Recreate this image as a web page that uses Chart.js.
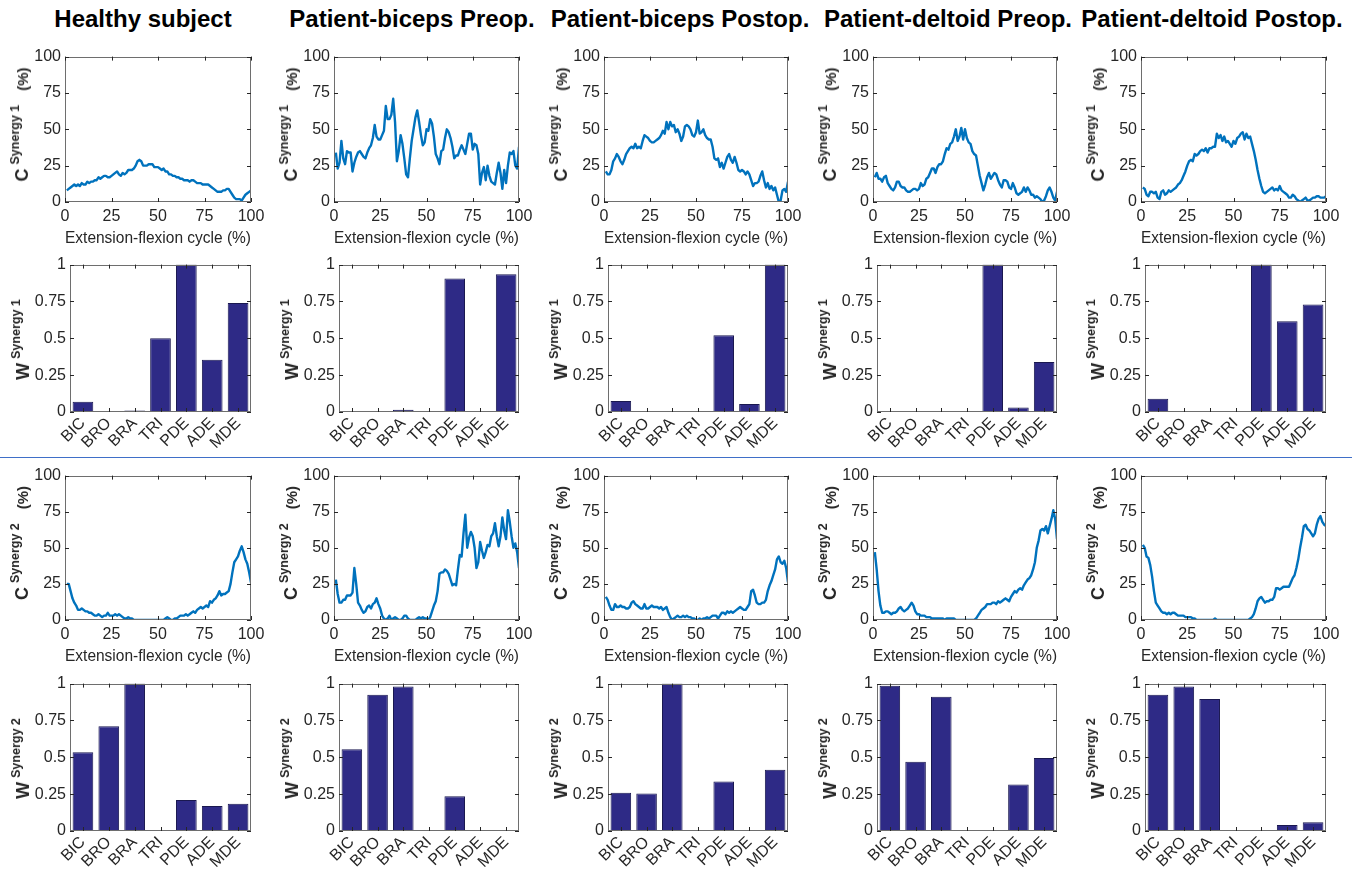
<!DOCTYPE html>
<html><head><meta charset="utf-8">
<script src="https://cdn.jsdelivr.net/npm/chart.js@4.4.1/dist/chart.umd.min.js"></script>
<style>
body{margin:0;background:#fff;width:1352px;height:872px;overflow:hidden;position:relative;font-family:"Liberation Sans",Arial,Helvetica,sans-serif;}
.t{position:absolute;top:5px;line-height:28px;font-weight:bold;font-size:24px;white-space:nowrap;transform:translateX(-50%);color:#000}
.yl{position:absolute;left:0;top:0;transform-origin:0 0;white-space:nowrap;font-weight:bold;color:#262626;font-size:18px;line-height:18px}
.yl .sup{font-size:12.5px;position:relative;top:-9px;margin-left:4px}
.yl .pct{font-size:15px;margin-left:14px}
canvas{position:absolute}
#sep{position:absolute;left:0;width:1352px;top:457px;height:1px;background:#3f6fc8}
</style></head><body>
<div id="sep"></div>
<script>
// ---------- DATA ----------
const columnTitles = ['Healthy subject','Patient-biceps Preop.','Patient-biceps Postop.','Patient-deltoid Preop.','Patient-deltoid Postop.'];
const muscles = ['BIC','BRO','BRA','TRI','PDE','ADE','MDE'];
const cycleTicks = [0,25,50,75,100];
const cTicks = [0,25,50,75,100];
const wTicks = [0,0.25,0.5,0.75,1];
const wTickLabels = ['0','0.25','0.5','0.75','1'];
const xTitle = 'Extension-flexion cycle (%)';
const cyclePoints = [1,2,3,4,5,6,7,8,9,10,11,12,13,14,15,16,17,18,19,20,21,22,23,24,25,26,27,28,29,30,31,32,33,34,35,36,37,38,39,40,41,42,43,44,45,46,47,48,49,50,51,52,53,54,55,56,57,58,59,60,61,62,63,64,65,66,67,68,69,70,71,72,73,74,75,76,77,78,79,80,81,82,83,84,85,86,87,88,89,90,91,92,93,94,95,96,97,98,99,100];

// Synergy 1 activation coefficients (%)
const healthyC1 = [8,9,10,11,12,11,12,11,13,12, 12,14,13,14,14,15,15,17,16,17, 18,18,17,17,18,19,20,21,19,18, 20,19,20,22,22,22,23,25,28,29, 28,25,25,25,26,26,26,24,24,24, 23,22,23,21,21,19,19,18,18,17, 17,16,16,15,15,15,14,15,15,14, 13,13,13,12,12,12,12,11,10,9, 8,7,7,7,8,8,9,9,7,5, 3,2,2,2,1,3,5,6,7,8];
const bicepsPreC1 = [34,23,27,42,30,26,35,34,34,21, 27,31,34,35,33,31,30,34,37,39, 44,53,45,43,43,46,49,66,57,57, 60,71,55,28,35,46,40,30,19,17, 30,42,50,58,63,55,46,39,41,50, 49,57,54,45,33,30,26,35,36,44, 50,48,44,38,30,32,32,36,39,36, 33,40,47,47,36,40,39,33,12,20, 24,15,25,18,14,13,12,20,27,20, 9,22,13,25,34,33,35,25,23,38];
const bicepsPostC1 = [21,19,19,22,28,30,33,31,28,26, 29,33,35,37,38,37,40,37,38,37, 42,46,45,44,42,41,41,42,43,44, 46,49,47,55,50,55,52,53,48,50, 47,42,45,52,53,52,50,46,45,48, 56,47,48,50,46,44,43,43,38,30, 29,30,24,27,23,27,31,33,29,27, 31,27,22,21,22,21,19,21,19,15, 11,13,13,14,18,21,15,10,13,9, 11,8,10,5,0,1,8,9,7,14];
const deltoidPreC1 = [17,20,16,16,14,17,18,13,11,9, 8,10,14,14,11,10,10,8,7,7, 8,9,9,8,9,13,11,12,16,17, 20,23,23,20,24,26,26,28,33,37, 36,40,41,45,50,42,45,51,43,50, 44,41,40,35,33,32,25,18,13,8, 12,17,20,16,18,20,19,15,12,10, 15,15,14,10,9,13,10,6,5,6, 7,10,7,10,8,5,5,3,4,3, 2,0,1,4,8,10,7,3,1,7];
const deltoidPostC1 = [10,9,5,4,7,7,6,7,3,2, 7,8,5,6,8,7,8,9,10,12, 13,15,18,21,25,28,29,28,33,32, 33,35,36,35,37,34,37,37,38,38, 47,44,46,42,45,41,42,40,38,42, 40,44,45,47,48,43,47,44,45,40, 35,29,22,16,11,7,6,7,8,9, 10,8,9,8,11,8,7,6,5,3, 3,5,4,2,1,0,1,2,3,1, 1,2,3,3,4,4,3,3,3,4];

// Synergy 2 activation coefficients (%)
const healthyC2 = [25,25,20,15,12,10,7,7,8,7, 6,6,5,5,4,3,3,4,3,2, 3,3,5,3,3,3,4,3,4,3, 2,1,1,2,1,1,0,0,0,0, 0,0,0,0,0,0,0,0,0,0, 0,0,0,1,2,1,0,0,1,1, 2,3,3,3,4,3,4,5,6,5, 7,8,9,8,9,10,9,13,12,14, 15,17,20,17,18,18,19,20,25,33, 40,42,44,48,51,47,42,39,33,26];
const bicepsPreC2 = [28,18,12,12,14,14,17,17,17,19, 36,25,12,10,7,5,6,9,10,8, 11,12,15,11,8,3,1,0,1,3, 0,1,2,1,0,0,1,3,3,1, 0,0,0,0,1,2,1,2,1,1, 0,2,6,10,13,20,32,33,33,35, 34,32,28,24,25,24,35,45,44,60, 73,50,57,61,58,50,36,40,54,48, 43,47,52,51,58,60,67,58,51,58, 71,62,56,76,68,58,50,53,47,36];
const bicepsPostC2 = [16,14,10,7,7,11,9,9,10,9, 9,8,8,9,12,13,11,10,9,8, 8,11,8,8,9,10,9,9,9,8, 9,7,8,9,5,2,0,1,2,3, 2,2,3,2,3,2,2,1,1,0, 0,1,0,1,1,2,1,2,3,3, 3,1,3,5,5,4,6,5,6,5, 6,7,8,9,8,7,7,9,11,20, 21,17,12,11,11,12,12,14,20,24, 27,31,35,42,44,40,39,41,36,26];
const deltoidPreC2 = [47,35,20,10,5,5,6,6,5,4, 5,5,6,8,9,7,6,7,8,10, 12,10,6,4,4,3,3,3,2,2, 2,1,1,1,1,1,1,1,0,1, 1,1,1,1,0,0,0,0,0,0, 0,0,0,0,0,1,3,5,7,8, 9,11,11,11,12,12,11,13,12,13, 14,15,14,13,16,18,20,19,21,22, 21,24,26,28,29,31,35,40,50,55, 62,63,62,65,60,65,70,76,70,56];
const deltoidPostC2 = [52,50,44,43,38,30,20,12,10,8, 6,5,5,4,5,4,5,5,4,3, 3,3,3,2,2,2,2,1,1,0, 0,0,0,0,0,0,0,0,0,1, 0,0,0,0,0,0,0,0,0,0, 0,0,0,0,0,0,0,0,1,2, 4,8,13,15,16,14,12,13,13,14, 14,16,22,22,21,22,23,23,23,23, 26,29,31,36,42,50,57,65,66,63, 62,60,58,60,66,70,72,68,66,65];

// Muscle weightings
const healthyW1 = [0.07,0,0.01,0.50,1.0,0.355,0.74];
const bicepsPreW1 = [0.005,0.007,0.015,0,0.905,0,0.935];
const bicepsPostW1 = [0.075,0.003,0,0,0.52,0.055,1.0];
const deltoidPreW1 = [0.005,0,0.003,0,1.0,0.03,0.34];
const deltoidPostW1 = [0.09,0.003,0,0,1.0,0.615,0.73];
const healthyW2 = [0.535,0.71,1.0,0,0.21,0.17,0.185];
const bicepsPreW2 = [0.555,0.925,0.98,0,0.235,0,0.005];
const bicepsPostW2 = [0.26,0.255,1.0,0,0.335,0,0.415];
const deltoidPreW2 = [0.985,0.47,0.91,0,0,0.315,0.495];
const deltoidPostW2 = [0.925,0.98,0.895,0,0,0.04,0.06];

// ---------- LAYOUT ----------
const FONT = '"Liberation Sans", Arial, Helvetica, sans-serif';
const TXT = '#262626';
const titleCenters = [143,412,680,948,1212];
const lineL = [65,334,604,873,1141];
const barL = [70,339,608,877,1145];
const colR = [251,519,788,1057,1326];
const rows = [
  {kind:'line', T:55, B:202, n:1, series:[healthyC1,bicepsPreC1,bicepsPostC1,deltoidPreC1,deltoidPostC1]},
  {kind:'bar', T:263, B:412, n:1, series:[healthyW1,bicepsPreW1,bicepsPostW1,deltoidPreW1,deltoidPostW1]},
  {kind:'line', T:474, B:620, n:2, series:[healthyC2,bicepsPreC2,bicepsPostC2,deltoidPreC2,deltoidPostC2]},
  {kind:'bar', T:682, B:831, n:2, series:[healthyW2,bicepsPreW2,bicepsPostW2,deltoidPreW2,deltoidPostW2]}
];

Chart.defaults.font.family = FONT;
Chart.defaults.color = TXT;

const boxPlugin = {
  id:'boxTicks',
  afterDatasetsDraw(chart){
    const {ctx, chartArea:a, scales:{x,y}} = chart;
    ctx.save();
    ctx.strokeStyle = '#6e6e6e';
    ctx.lineWidth = 1;
    ctx.strokeRect(Math.round(a.left)+0.5, Math.round(a.top)+0.5, Math.round(a.right-a.left)-1, Math.round(a.bottom-a.top)-1);
    ctx.strokeStyle = '#262626';
    ctx.beginPath();
    const L = 4;
    y.ticks.forEach((t,i)=>{
      const py = Math.round(y.getPixelForTick(i))+0.5;
      ctx.moveTo(a.left, py); ctx.lineTo(a.left+L, py);
      ctx.moveTo(a.right, py); ctx.lineTo(a.right-L, py);
    });
    x.ticks.forEach((t,i)=>{
      const px = Math.round(x.getPixelForTick(i))+0.5;
      ctx.moveTo(px, a.bottom); ctx.lineTo(px, a.bottom-L);
      ctx.moveTo(px, a.top); ctx.lineTo(px, a.top+L);
    });
    ctx.stroke();
    ctx.restore();
  }
};

function addCanvas(left, top, w, h){
  const c = document.createElement('canvas');
  c.width = w; c.height = h;
  c.style.left = left+'px'; c.style.top = top+'px';
  c.style.width = w+'px'; c.style.height = h+'px';
  document.body.appendChild(c);
  return c;
}

function yLabel(cx, cy, letter, n, pct){
  const d = document.createElement('div');
  d.className = 'yl';
  d.innerHTML = '<span>'+letter+'</span><span class="sup">Synergy '+n+'</span>' + (pct ? '<span class="pct">(%)</span>' : '');
  d.style.transform = 'translate('+cx+'px,'+cy+'px) rotate(-90deg) translate(-50%,-50%)';
  document.body.appendChild(d);
}

function tickFont(){ return {size:16, family:FONT}; }

function lineChart(L,T,R,B,values){
  const YW=50, PT=12, PR=22, XH=50;
  const w=(R-L)+YW+PR, h=(B-T)+PT+XH;
  const cv = addCanvas(L-YW, T-PT, w, h);
  new Chart(cv, {
    type:'line',
    data:{datasets:[{data: cyclePoints.map((xv,i)=>({x:xv, y:values[i]})), borderColor:'#0072BD', borderWidth:2.4, pointRadius:0, tension:0, fill:false, borderJoinStyle:'round'}]},
    options:{
      responsive:false, animation:false, devicePixelRatio:1,
      layout:{padding:{left:0, top:PT, right:PR, bottom:0}},
      plugins:{legend:{display:false}, tooltip:{enabled:false}},
      scales:{
        x:{type:'linear', min:0, max:100,
          afterBuildTicks:s=>{ s.ticks = cycleTicks.map(v=>({value:v})); },
          grid:{display:false, drawTicks:false}, border:{display:false},
          ticks:{font:tickFont(), color:TXT, padding:5, maxRotation:0, autoSkip:false, callback:v=>String(v)},
          title:{display:true, text:xTitle, font:{size:16, family:FONT}, color:TXT, padding:{top:0,bottom:4}},
          afterFit:s=>{ s.height = XH; }},
        y:{type:'linear', min:0, max:100,
          afterBuildTicks:s=>{ s.ticks = cTicks.map(v=>({value:v})); },
          grid:{display:false, drawTicks:false}, border:{display:false},
          ticks:{font:tickFont(), color:TXT, padding:4, autoSkip:false, callback:v=>String(v)},
          afterFit:s=>{ s.width = YW; }}
      }
    },
    plugins:[boxPlugin]
  });
}

function barChart(L,T,R,B,values){
  const YW=50, PT=12, PR=10, XH=60;
  const w=(R-L)+YW+PR, h=(B-T)+PT+XH;
  const cv = addCanvas(L-YW, T-PT, w, h);
  new Chart(cv, {
    type:'bar',
    data:{labels:muscles, datasets:[{data:values, backgroundColor:'#2e2a86', borderColor:'#1a1850', borderWidth:1, barPercentage:0.8, categoryPercentage:1}]},
    options:{
      responsive:false, animation:false, devicePixelRatio:1,
      layout:{padding:{left:0, top:PT, right:PR, bottom:0}},
      plugins:{legend:{display:false}, tooltip:{enabled:false}},
      scales:{
        x:{grid:{display:false, drawTicks:false}, border:{display:false},
          ticks:{font:tickFont(), color:TXT, padding:2, minRotation:45, maxRotation:45, autoSkip:false},
          afterFit:s=>{ s.height = XH; }},
        y:{type:'linear', min:0, max:1,
          afterBuildTicks:s=>{ s.ticks = wTicks.map(v=>({value:v})); },
          grid:{display:false, drawTicks:false}, border:{display:false},
          ticks:{font:tickFont(), color:TXT, padding:4, autoSkip:false, callback:(v,i)=>wTickLabels[i]},
          afterFit:s=>{ s.width = YW; }}
      }
    },
    plugins:[boxPlugin]
  });
}

// titles
columnTitles.forEach((t,i)=>{
  const d = document.createElement('div');
  d.className = 't'; d.textContent = t; d.style.left = titleCenters[i]+'px';
  document.body.appendChild(d);
});

rows.forEach(r=>{
  r.series.forEach((vals,c)=>{
    if (r.kind === 'line') {
      lineChart(lineL[c], r.T, colR[c], r.B, vals);
      yLabel(lineL[c]-42, (r.T+r.B)/2-4, 'C', r.n, true);
    } else {
      barChart(barL[c], r.T, colR[c], r.B, vals);
      yLabel(barL[c]-46, (r.T+r.B)/2+2, 'W', r.n, false);
    }
  });
});
</script>
</body></html>
